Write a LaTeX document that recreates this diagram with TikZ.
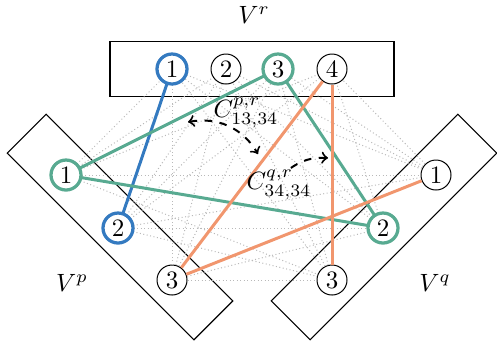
\documentclass[tikz,border=0pt]{standalone}
\usepackage{amsmath,amssymb}
\usepackage{tikz}
\usetikzlibrary{shapes,arrows,positioning,calc}
\usepackage{xcolor}
\definecolor{eblue}{RGB}{52,122,192}
\definecolor{egreen}{RGB}{88,170,145}
\definecolor{eorange}{RGB}{241,150,110}

\begin{document}
\begin{tikzpicture}[x=0.4pt, y=-0.4pt,
  vert/.style={draw, circle, inner sep=0.5pt, minimum size=12pt, line width=0.4pt},
  sel/.style={line width=1.3pt},
  part/.style={draw, rectangle, line width=0.45pt, minimum height=22pt},
  dots/.style={gray!55, densely dotted, line width=0.4pt},
  edge/.style={line width=1.2pt},
  conf/.style={<->, >=to, dashed, line width=0.8pt}
]
\useasboundingbox (0,0) rectangle (497,343);

% parts
\node[part, minimum width=113.6pt] (Vr) at (252,69) {};
\node[part, minimum width=105.6pt, rotate=-45] (Vp) at (120,227) {};
\node[part, minimum width=105.6pt, rotate=45] (Vq) at (384,227) {};
\node (Lr) at (254,15) {$V^r$};
\node (Lp) at (72,283) {$V^p$};
\node (Lq) at (435,283) {$V^q$};

% vertices of V^r
\node[vert] (r1) at (172,69) {1};
\node[vert] (r2) at (226,69) {2};
\node[vert] (r3) at (278,69) {3};
\node[vert] (r4) at (332,69) {4};
% vertices of V^p
\node[vert] (p1) at (66,175) {1};
\node[vert] (p2) at (118,228) {2};
\node[vert] (p3) at (172,280) {3};
% vertices of V^q
\node[vert] (q1) at (436,175) {1};
\node[vert] (q2) at (383,228) {2};
\node[vert] (q3) at (332,280) {3};

% all candidate edges
\foreach \a in {p1,p2,p3}{
  \foreach \b in {r1,r2,r3,r4} \draw[dots] (\a) -- (\b);
  \foreach \b in {q1,q2,q3} \draw[dots] (\a) -- (\b);
}
\foreach \a in {q1,q2,q3}
  \foreach \b in {r1,r2,r3,r4} \draw[dots] (\a) -- (\b);

% chosen edges
\draw[edge, eblue] (r1) -- (p2);
\draw[edge, egreen] (r3) -- (p1);
\draw[edge, egreen] (r3) -- (q2);
\draw[edge, egreen] (p1) -- (q2);
\draw[edge, eorange] (r4) -- (p3);
\draw[edge, eorange] (r4) -- (q3);
\draw[edge, eorange] (p3) -- (q1);

% highlighted vertices
\foreach \v in {r1,p2} \draw[sel, eblue] (\v) circle (6pt);
\foreach \v in {r3,p1,q2} \draw[sel, egreen] (\v) circle (6pt);

% conflicts
\coordinate (c1) at (188,122);
\coordinate (c2) at (258,154);
\coordinate (c3) at (288,170);
\coordinate (c4) at (328,158);
\draw[conf] (c1) to[bend left=35] (c2);
\draw[conf, <-] (c4) to[bend right=20] (c3);
\node (Cpr) at (246,113) {$C^{p,r}_{13,34}$};
\node (Cqr) at (279,185) {$C^{q,r}_{34,34}$};
\end{tikzpicture}
\end{document}
